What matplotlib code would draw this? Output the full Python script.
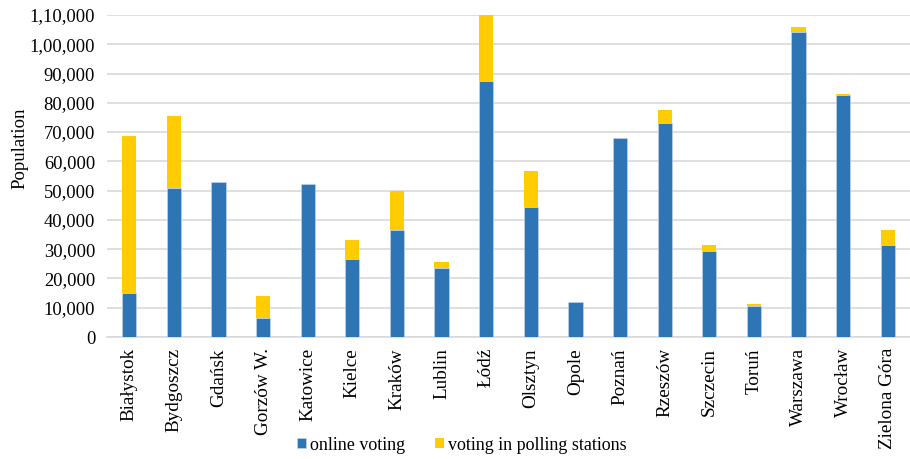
import numpy as np
import matplotlib.pyplot as plt
from matplotlib.ticker import FuncFormatter

plt.rcParams['font.family'] = ['Liberation Serif', 'DejaVu Serif']

cities = ["Białystok", "Bydgoszcz", "Gdańsk", "Gorzów W.", "Katowice", "Kielce",
          "Kraków", "Lublin", "Łódź", "Olsztyn", "Opole", "Poznań", "Rzeszów",
          "Szczecin", "Toruń", "Warszawa", "Wrocław", "Zielona Góra"]
online = [15200, 50900, 52800, 6400, 52300, 26800, 36600, 23600, 87500, 44300,
          12100, 68100, 73000, 29400, 10700, 104200, 82700, 31400]
polling = [53500, 24500, 0, 7600, 0, 6300, 13200, 2000, 22400, 12300,
           0, 0, 4400, 2000, 500, 1600, 200, 5000]


def indian_fmt(v, pos):
    # lakh-style grouping: 1,00,000
    s = str(int(round(v)))
    if len(s) <= 3:
        return s
    head, tail = s[:-3], s[-3:]
    parts = []
    while len(head) > 2:
        parts.insert(0, head[-2:])
        head = head[:-2]
    if head:
        parts.insert(0, head)
    return ",".join(parts) + "," + tail


fig = plt.figure(figsize=(9.1, 4.59), dpi=100)
ax = fig.add_axes([107 / 910, 1 - 337 / 459, 803 / 910, 322 / 459])

x = np.arange(len(cities))
ax.bar(x, online, width=0.32, color="#2E75B6", edgecolor="#c9d9ee", linewidth=0.4,
       label="online voting", zorder=3)
ax.bar(x, polling, width=0.32, bottom=online, color="#FFCC00", linewidth=0,
       label="voting in polling stations", zorder=3)

ax.set_xlim(-0.5, len(cities) - 0.5)
ax.set_ylim(0, 110000)
ax.set_yticks(np.arange(0, 110001, 10000))
ax.yaxis.set_major_formatter(FuncFormatter(indian_fmt))
ax.grid(axis="y", color="#d9d9d9", linewidth=1.2, zorder=0)
for s in ["top", "right", "left"]:
    ax.spines[s].set_visible(False)
ax.spines["bottom"].set_color("#d9d9d9")
ax.spines["bottom"].set_linewidth(1.2)
ax.tick_params(axis="y", length=0, labelsize=13.3, pad=8.5)
ax.tick_params(axis="x", length=0, labelsize=13.8, pad=8)
ax.set_xticks(x)
ax.set_xticklabels(cities, rotation=90)
ax.set_ylabel("Population", fontsize=13.5)
ax.yaxis.set_label_coords(-0.098, 0.587)

fig.legend(loc="center", bbox_to_anchor=(462 / 910, 1 - 445 / 459), ncol=2,
           frameon=False, fontsize=13, handlelength=0.5, handleheight=0.5,
           handletextpad=0.22, columnspacing=1.65)

fig.savefig("out.png", dpi=100)
